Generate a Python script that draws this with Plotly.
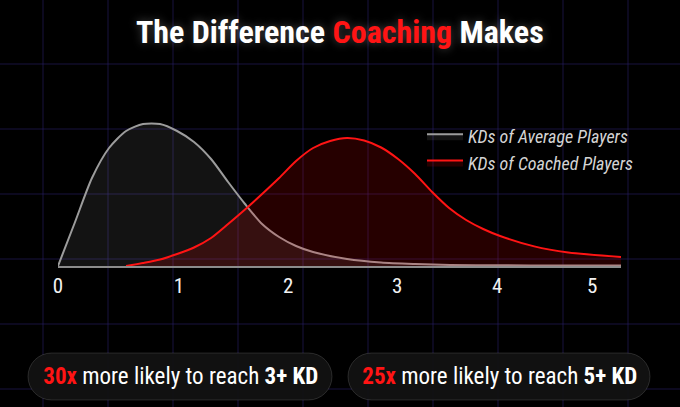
import plotly.graph_objects as go

# ---------------- data ----------------
x_average = [0.0, 0.142, 0.283, 0.425, 0.567, 0.708, 0.85, 0.992, 1.133, 1.275, 1.417, 1.558,
             1.70, 1.842, 1.983, 2.125, 2.408, 2.692, 2.975, 3.267, 3.683, 4.183, 4.69]
y_average = [0.0, 0.44, 0.88, 1.18, 1.35, 1.42, 1.42, 1.35, 1.24, 1.07, 0.84, 0.62,
             0.42, 0.29, 0.20, 0.14, 0.07, 0.035, 0.02, 0.01, 0.007, 0.005, 0.005]

x_coached = [0.567, 0.708, 0.85, 0.992, 1.133, 1.275, 1.417, 1.558, 1.70, 1.842, 1.983, 2.125,
             2.267, 2.408, 2.55, 2.692, 2.833, 2.975, 3.117, 3.258, 3.40, 3.542, 3.683,
             3.967, 4.25, 4.69]
y_coached = [0.0, 0.03, 0.065, 0.12, 0.185, 0.28, 0.42, 0.565, 0.72, 0.88, 1.05, 1.18,
             1.25, 1.28, 1.255, 1.185, 1.07, 0.92, 0.74, 0.58, 0.46, 0.37, 0.30,
             0.196, 0.136, 0.09]

tick_positions = [0.0, 1.008, 1.917, 2.825, 3.658, 4.45]
tick_labels = ["0", "1", "2", "3", "4", "5"]

series_names = ["KDs of Average Players", "KDs of Coached Players"]
title_parts = ["The Difference ", "Coaching", " Makes"]
callout_numbers = ["30x", "25x"]
callout_middle = " more likely to reach "
callout_targets = ["3+ KD", "5+ KD"]

# ---------------- layout constants ----------------
W, H = 680, 407
ML, MR, MT, MB = 58, 59, 110, 141
PW, PH = W - ML - MR, H - MT - MB
XMAX = 4.69
YMAX = PH / 100.0

FONT = "Roboto, Open Sans, DejaVu Sans Condensed, sans-serif"
RED = "#ff1414"


def fx(px):
    return (px - ML) / PW


def fy(py):
    return (H - MB - py) / PH


fig = go.Figure()
fig.add_trace(go.Scatter(
    x=x_average, y=y_average, name=series_names[0], mode="lines",
    line=dict(color="#9c9c9c", width=2, shape="spline", smoothing=0.7),
    fill="tozeroy", fillcolor="rgba(255,255,255,0.075)", hoverinfo="skip"))
fig.add_trace(go.Scatter(
    x=x_coached, y=y_coached, name=series_names[1], mode="lines",
    line=dict(color=RED, width=2, shape="spline", smoothing=0.7),
    fill="tozeroy", fillcolor="rgba(255,0,0,0.15)", hoverinfo="skip"))

shapes = []
# background grid
GRID = "rgba(45,35,115,0.55)"
for k in range(-1, 11):
    gx = 43 + 65 * k
    shapes.append(dict(type="line", xref="paper", yref="paper", x0=fx(gx), x1=fx(gx),
                       y0=fy(0), y1=fy(H), line=dict(color=GRID, width=1), layer="below"))
for k in range(0, 6):
    gy = 64 + 65 * k
    shapes.append(dict(type="line", xref="paper", yref="paper", x0=fx(0), x1=fx(W),
                       y0=fy(gy), y1=fy(gy), line=dict(color=GRID, width=1), layer="below"))


def pill(x0, x1, y0, y1):
    r = (y1 - y0) / 2.0
    k = 0.5523 * r
    pts = [
        f"M{fx(x0 + r)},{fy(y0)}",
        f"L{fx(x1 - r)},{fy(y0)}",
        f"C{fx(x1 - r + k)},{fy(y0)} {fx(x1)},{fy(y0 + r - k)} {fx(x1)},{fy(y0 + r)}",
        f"C{fx(x1)},{fy(y0 + r + k)} {fx(x1 - r + k)},{fy(y1)} {fx(x1 - r)},{fy(y1)}",
        f"L{fx(x0 + r)},{fy(y1)}",
        f"C{fx(x0 + r - k)},{fy(y1)} {fx(x0)},{fy(y0 + r + k)} {fx(x0)},{fy(y0 + r)}",
        f"C{fx(x0)},{fy(y0 + r - k)} {fx(x0 + r - k)},{fy(y0)} {fx(x0 + r)},{fy(y0)}Z",
    ]
    return dict(type="path", xref="paper", yref="paper", path=" ".join(pts),
                fillcolor="rgba(18,18,18,0.92)", line=dict(color="rgba(255,255,255,0.13)", width=1),
                layer="above")


pills = [(28, 332), (348, 650)]
for (a, b) in pills:
    shapes.append(pill(a, b, 353, 400))

annotations = []
annotations.append(dict(
    xref="paper", yref="paper", x=fx(340), y=fy(32), xanchor="center", yanchor="middle",
    showarrow=False,
    text=f"<b>{title_parts[0]}<span style='color:{RED}'>{title_parts[1]}</span>{title_parts[2]}</b>",
    font=dict(family=FONT, size=32, color="#ffffff", shadow="0px 0px 10px rgba(255,255,255,0.28)")))

for i, (a, b) in enumerate(pills):
    annotations.append(dict(
        xref="paper", yref="paper", x=fx((a + b) / 2), y=fy(376), xanchor="center", yanchor="middle",
        showarrow=False,
        text=f"<b><span style='color:{RED}'>{callout_numbers[i]}</span></b>{callout_middle}<b>{callout_targets[i]}</b>",
        font=dict(family=FONT, size=23, color="#ffffff")))

fig.update_layout(
    width=W, height=H, margin=dict(l=ML, r=MR, t=MT, b=MB, pad=0),
    paper_bgcolor="#000000", plot_bgcolor="rgba(0,0,0,0)",
    showlegend=True,
    legend=dict(x=fx(422), y=fy(118), xanchor="left", yanchor="top",
                bgcolor="rgba(0,0,0,0)", borderwidth=0, tracegroupgap=0, itemwidth=36,
                font=dict(family=FONT, size=18, color="#d4d4d4", style="italic")),
    xaxis=dict(range=[0, XMAX], showgrid=False, zeroline=False, showline=True,
               linecolor="#8c8c8c", linewidth=2, tickmode="array",
               tickvals=tick_positions, ticktext=tick_labels, ticks="",
               ticklabelstandoff=0,
               tickfont=dict(family=FONT, size=21, color="#f2f2f2"), fixedrange=True),
    yaxis=dict(range=[0, YMAX], visible=False, fixedrange=True),
    shapes=shapes, annotations=annotations,
)

js = """
document.body.style.margin = '0';
document.querySelectorAll('.main-svg text').forEach(function (t) {
  t.style.fontStretch = 'condensed';
  t.style.fontVariationSettings = '"wdth" 75';
});
"""
fig.write_html("out.html", post_script=js, config={"displayModeBar": False, "staticPlot": True})
